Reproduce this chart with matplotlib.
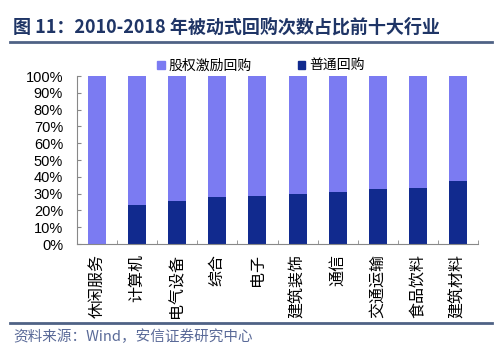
import matplotlib
matplotlib.use("Agg")
import matplotlib.pyplot as plt
from matplotlib.patches import Patch
from matplotlib.lines import Line2D
import numpy as np

plt.rcParams['font.family'] = ['Noto Sans CJK SC', 'DejaVu Sans']

categories = ['休闲服务', '计算机', '电气设备', '综合', '电子', '建筑装饰', '通信', '交通运输', '食品饮料', '建筑材料']
normal = [0.0, 23.2, 25.8, 28.2, 28.6, 29.6, 30.8, 32.7, 33.5, 37.3]
incentive = [100 - v for v in normal]
series_names = ['股权激励回购', '普通回购']
yticks = [0, 10, 20, 30, 40, 50, 60, 70, 80, 90, 100]

c_light = '#7B7BF2'
c_dark = '#112A8E'

fig = plt.figure(figsize=(5, 3.58), dpi=100)
ax = fig.add_axes([0.154, 0.3184, 0.802, 0.4693])

x = np.arange(len(categories))
ax.bar(x, normal, width=0.45, color=c_dark, zorder=2)
ax.bar(x, incentive, bottom=normal, width=0.45, color=c_light, zorder=2)

ax.set_xlim(-0.5, len(categories) - 0.5)
ax.set_ylim(0, 100)
ax.set_yticks(yticks)
ax.set_yticklabels([f'{v}%' for v in yticks], fontsize=10.5, family=['Liberation Sans', 'DejaVu Sans'])
ax.tick_params(axis='y', direction='in', length=3, pad=10, color='#888888')
ax.set_xticks(x)
ax.set_xticklabels(categories, rotation=90, fontsize=11.5, va='top', ha='center')
ax.tick_params(axis='x', length=0, pad=7)
# category boundary ticks
ax.set_xticks(np.arange(-0.5, len(categories)), minor=True)
ax.tick_params(axis='x', which='minor', direction='in', length=3, color='#888888')

for s in ['top', 'right']:
    ax.spines[s].set_visible(False)
for s in ['left', 'bottom']:
    ax.spines[s].set_color('#888888')
    ax.spines[s].set_linewidth(0.8)

handles = [Patch(color=c_light), Patch(color=c_dark)]
fig.legend(handles, series_names, loc='center', bbox_to_anchor=(0.522, 0.816), ncol=2,
           frameon=False, fontsize=10, handlelength=0.55, handleheight=0.55,
           handletextpad=0.3, columnspacing=3.3)

fig.text(0.026, 0.925, '图 11：2010-2018 年被动式回购次数占比前十大行业', fontsize=13,
         fontweight='bold', color='#1F3566', va='center', ha='left')
fig.add_artist(Line2D([0.02, 0.984], [1 - 42/358, 1 - 42/358], color='#4F6285', lw=2))
fig.add_artist(Line2D([0.02, 0.984], [1 - 323/358, 1 - 323/358], color='#4F6285', lw=2))
fig.text(0.026, 0.059, '资料来源：Wind，安信证券研究中心', fontsize=10.5, style='italic',
         color='#5A6A98', va='center', ha='left')

fig.savefig('out.png', dpi=100)
